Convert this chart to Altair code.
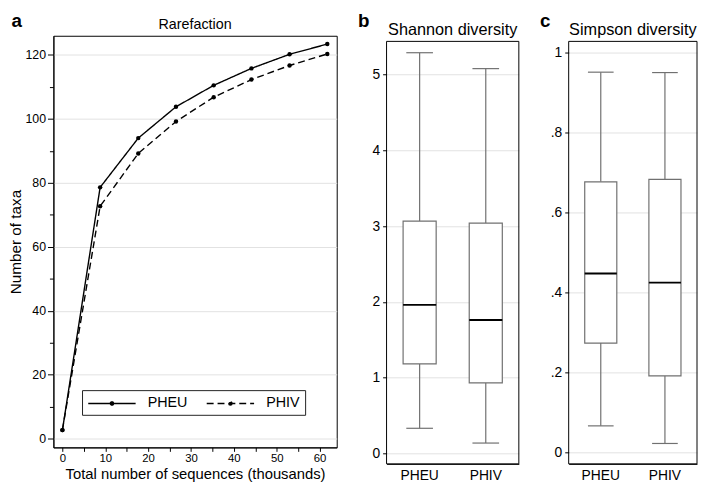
import altair as alt
import pandas as pd

FONT = "Liberation Sans"
GRAY = "#707070"

# ---------------- data ----------------
seq_thousands = [0, 8.8, 17.7, 26.5, 35.3, 44.1, 53.0, 61.8]
taxa_pheu = [2.7, 78.6, 94.0, 103.8, 110.5, 115.8, 120.2, 123.4]
taxa_phiv = [2.7, 72.7, 89.2, 99.2, 106.8, 112.3, 116.7, 120.3]

groups = ["PHEU", "PHIV"]

shannon_min = [0.33, 0.135]
shannon_q1 = [1.18, 0.93]
shannon_med = [1.96, 1.76]
shannon_q3 = [3.065, 3.04]
shannon_max = [5.29, 5.08]

simpson_min = [0.067, 0.023]
simpson_q1 = [0.274, 0.192]
simpson_med = [0.448, 0.425]
simpson_q3 = [0.677, 0.683]
simpson_max = [0.951, 0.950]

x_ticks = [0, 5, 10, 15, 20, 25, 30, 35, 40, 45, 50, 55, 60]
y_ticks = [0, 10, 20, 30, 40, 50, 60, 70, 80, 90, 100, 110, 120]
shannon_ticks = [0, 1, 2, 3, 4, 5]
simpson_ticks = [0, 0.2, 0.4, 0.6, 0.8, 1.0]

LETTER_Y = -24   # letters (a, b, c) share one top line

# ---------------- panel a ----------------
W_A, H_A = 287, 417
rare = pd.DataFrame({
    "x": seq_thousands * 2,
    "y": taxa_pheu + taxa_phiv,
    "group": [groups[0]] * len(seq_thousands) + [groups[1]] * len(seq_thousands),
})

xs_a = alt.Scale(domain=[-2.1, 64.0], nice=False, zero=False)
ys_a = alt.Scale(domain=[-2.7, 126.0], nice=False, zero=False)

x_a = alt.X("x:Q", scale=xs_a, axis=alt.Axis(
    values=x_ticks,
    labelExpr="datum.value % 10 === 0 ? datum.label : ''",
    tickSize=4, labelPadding=1, labelFontSize=11.5, grid=False,
    title="Total number of sequences (thousands)", titleFontSize=15,
    titleY=32, titleBaseline="alphabetic"))
y_a = alt.Y("y:Q", scale=ys_a, axis=alt.Axis(
    values=y_ticks,
    labelExpr="datum.value % 20 === 0 ? datum.label : ''",
    tickSize={"condition": {"test": "datum.value % 20 === 0", "value": 6}, "value": 4},
    gridOpacity={"condition": {"test": "datum.value % 20 === 0", "value": 1}, "value": 0},
    labelPadding=2, labelFontSize=12.5,
    title="Number of taxa", titleFontSize=15.5, titleAngle=270,
    titleX=-33, titleY=H_A / 2, titleBaseline="alphabetic", titleAlign="center"))

SYMBOL = ("M-3.2,0H3.2M-0.22,0A0.22,0.22,0,1,0,0.22,0"
          "A0.22,0.22,0,1,0,-0.22,0")

lines = alt.Chart(rare).mark_line(color="black", strokeWidth=1.4).encode(
    x=x_a, y=y_a,
    strokeDash=alt.StrokeDash("group:N",
        scale=alt.Scale(domain=groups, range=[[1, 0], [7, 4]]),
        legend=alt.Legend(title=None, orient="none", legendX=29, legendY=359,
                          direction="horizontal", symbolType=SYMBOL, symbolSize=225,
                          symbolStrokeWidth=1.4, symbolStrokeColor="black",
                          symbolFillColor="black", symbolOffset=16.8,
                          labelFontSize=14.5, labelFont=FONT,
                          labelColor="black", labelOffset=27.7, columnPadding=16,
                          padding=5, strokeColor="#222", fillColor="white")))
points = alt.Chart(rare).mark_point(filled=True, size=20, color="black", opacity=1).encode(
    x=x_a, y=y_a)

letter_a = alt.Chart(pd.DataFrame({"t": ["a"]})).mark_text(
    font=FONT, fontSize=19, fontWeight="bold", align="left", baseline="top",
    color="black").encode(x=alt.value(-42.5), y=alt.value(LETTER_Y), text="t:N")
title_a = alt.Chart(pd.DataFrame({"t": ["Rarefaction"]})).mark_text(
    font=FONT, fontSize=14.5, align="center", baseline="alphabetic", color="black").encode(
    x=alt.value(W_A / 2), y=alt.value(-7), text="t:N")

panel_a = alt.layer(lines, points, letter_a, title_a).properties(width=W_A, height=H_A)


# ---------------- panels b, c ----------------
FRAME_TOP = 5.7   # the boxplot frames start a little lower than panel a's


def box_panel(lo, q1, med, q3, hi, domain, ticks, label_expr, W, H, title, letter, cap):
    df = pd.DataFrame({"group": groups, "lo": lo, "q1": q1, "med": med, "q3": q3, "hi": hi})
    xs = alt.Scale(domain=groups, paddingInner=0, paddingOuter=0)
    ys = alt.Scale(domain=domain, nice=False, zero=False)
    x = alt.X("group:N", scale=xs, axis=alt.Axis(
        title=None, ticks=False, labelAngle=0, labelFontSize=14, labelPadding=5, grid=False))
    yax = alt.Axis(values=ticks, tickSize=4, labelPadding=3, labelFontSize=14, title=None,
                   domain=False, labelExpr=label_expr)
    base = alt.Chart(df)
    w_lo = base.mark_rule(color=GRAY, strokeWidth=1.2).encode(
        x=x, y=alt.Y("lo:Q", scale=ys, axis=yax), y2="q1:Q")
    w_hi = base.mark_rule(color=GRAY, strokeWidth=1.2).encode(x=x, y="q3:Q", y2="hi:Q")
    box = base.mark_bar(width=alt.RelativeBandSize(0.5), fill="white", stroke=GRAY,
                        strokeWidth=1.2).encode(x=x, y="q1:Q", y2="q3:Q")
    mid = base.mark_tick(color="black", thickness=2, size=W / 4, opacity=1).encode(x=x, y="med:Q")
    c_lo = base.mark_tick(color=GRAY, thickness=1.2, size=cap, opacity=1).encode(x=x, y="lo:Q")
    c_hi = base.mark_tick(color=GRAY, thickness=1.2, size=cap, opacity=1).encode(x=x, y="hi:Q")
    frame = alt.Chart(pd.DataFrame({"f": [0]})).mark_rect(
        fill="transparent", stroke="black", strokeWidth=1).encode(
        x=alt.value(0), x2=alt.value(W), y=alt.value(FRAME_TOP), y2=alt.value(H))
    let = alt.Chart(pd.DataFrame({"t": [letter]})).mark_text(
        font=FONT, fontSize=19, fontWeight="bold", align="left", baseline="top",
        color="black").encode(x=alt.value(-29), y=alt.value(LETTER_Y), text="t:N")
    ttl = alt.Chart(pd.DataFrame({"t": [title]})).mark_text(
        font=FONT, fontSize=16.5, align="center", baseline="alphabetic",
        color="black").encode(x=alt.value(W / 2), y=alt.value(-0.3), text="t:N")
    return alt.layer(w_lo, w_hi, box, mid, c_lo, c_hi, frame, let, ttl).properties(
        width=W, height=H, view=alt.ViewBackground(stroke="transparent"))


panel_b = box_panel(shannon_min, shannon_q1, shannon_med, shannon_q3, shannon_max,
                    [-0.14, 5.514], shannon_ticks, "format(datum.value, 'd')", 134, 433.7,
                    "Shannon diversity", "b", 27)
panel_c = box_panel(simpson_min, simpson_q1, simpson_med, simpson_q3, simpson_max,
                    [-0.028, 1.042], simpson_ticks,
                    "datum.value == 0 ? '0' : datum.value == 1 ? '1' : replace(format(datum.value, '.1f'), '0.', '.')",
                    130, 433.7, "Simpson diversity", "c", 26)

chart = alt.hconcat(panel_a, panel_b, panel_c, spacing=19.5).properties(
    padding=0
).configure_view(
    stroke="black", strokeWidth=1
).configure_axis(
    domainColor="black", tickColor="black", labelColor="black", titleColor="black",
    labelFont=FONT, titleFont=FONT, titleFontWeight="normal", gridColor="#e2e2e2",
    labelFlush=False, labelOverlap=False, domainWidth=1, tickWidth=1
).configure_text(font=FONT)

chart.save("out.html", embed_options={"renderer": "svg", "actions": False})
